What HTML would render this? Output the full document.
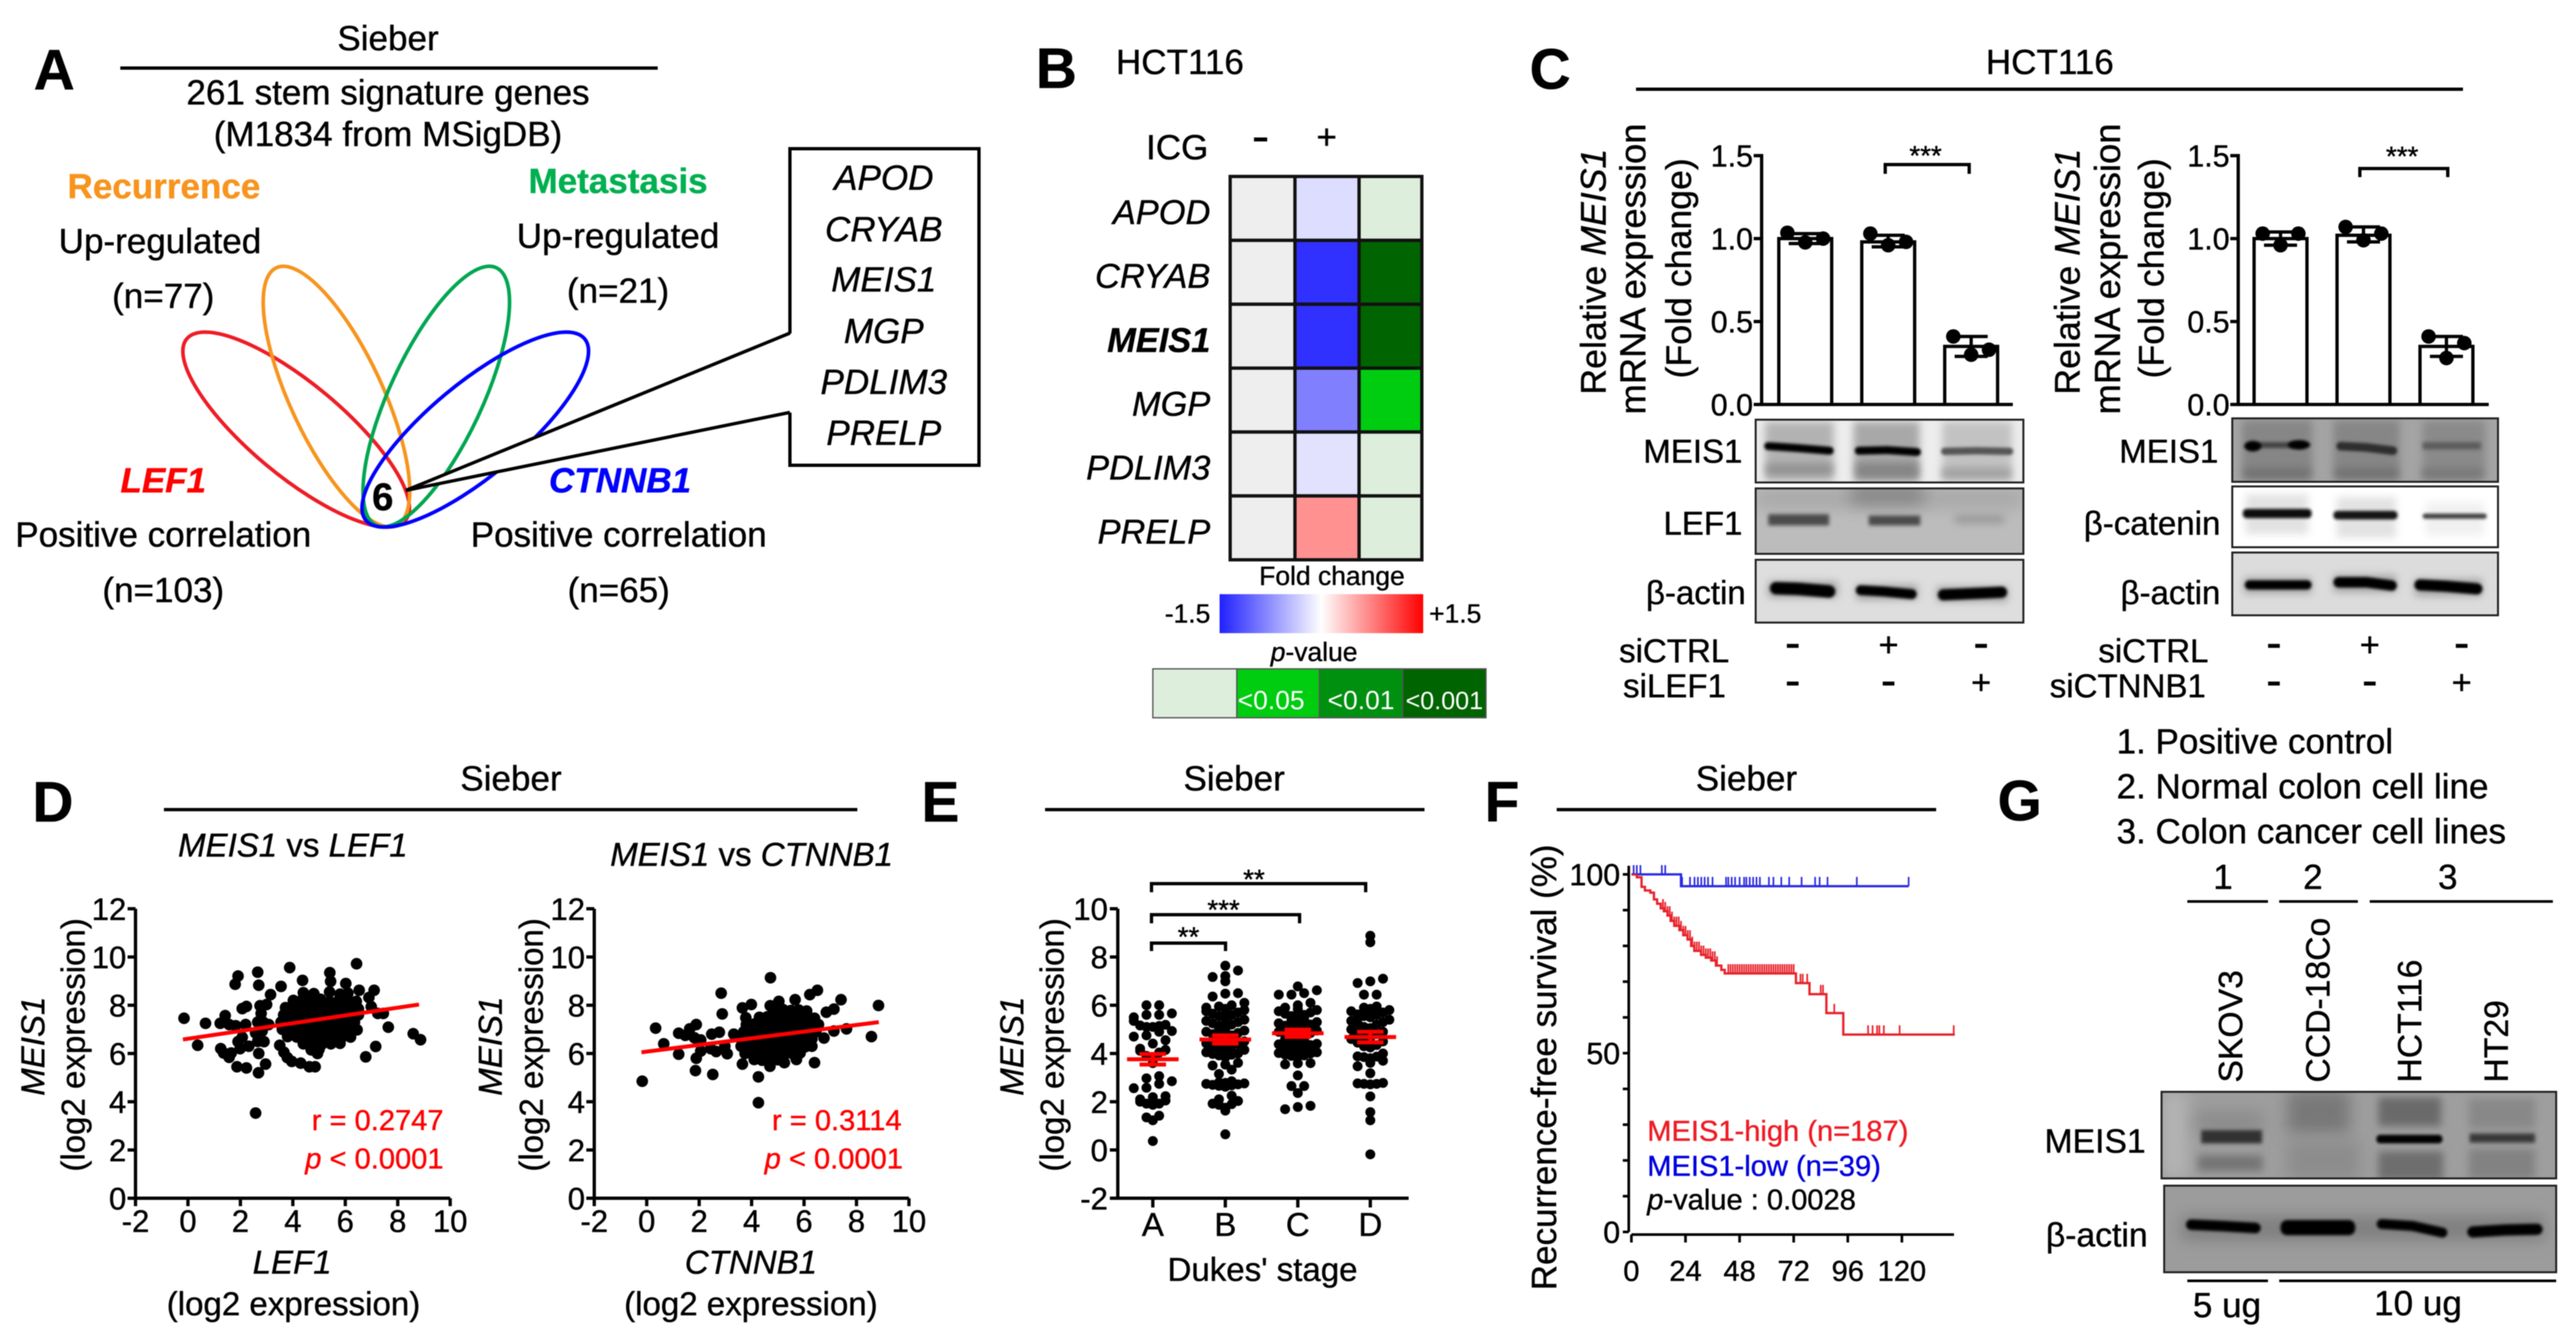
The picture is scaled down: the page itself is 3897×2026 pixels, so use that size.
<!DOCTYPE html>
<html lang="en">
<head>
<meta charset="utf-8">
<title>MEIS1 multi-panel figure</title>
<style>
html,body{margin:0;padding:0;background:#fff;}
svg{display:block;font-family:"Liberation Sans",Arial,sans-serif;filter:blur(0.8px);}
text{fill:#000;stroke:#000;stroke-width:0.6px;}
.t53{font-size:53px;}
.t50{font-size:50px;}
.t44{font-size:44px;}
.t40{font-size:40px;}
.it{font-style:italic;}
.bd{font-weight:bold;}
.mid{text-anchor:middle;}
.end{text-anchor:end;}
.letter{font-size:86px;font-weight:bold;}
.sgn{font-size:70px;text-anchor:middle;}
.pls{font-size:52px;text-anchor:middle;}
</style>
</head>
<body>
<svg id="fig" xmlns="http://www.w3.org/2000/svg" width="3897" height="2026" viewBox="0 0 3897 2026">
<defs>
<filter id="b2" filterUnits="userSpaceOnUse" x="2640" y="620" width="1240" height="1320"><feGaussianBlur stdDeviation="2"/></filter>
<filter id="b3" filterUnits="userSpaceOnUse" x="2640" y="620" width="1240" height="1320"><feGaussianBlur stdDeviation="3"/></filter>
<filter id="b6" filterUnits="userSpaceOnUse" x="2640" y="620" width="1240" height="1320"><feGaussianBlur stdDeviation="6"/></filter>
<filter id="b12" filterUnits="userSpaceOnUse" x="2640" y="620" width="1240" height="1320"><feGaussianBlur stdDeviation="12"/></filter>
<linearGradient id="fc-grad" x1="0" x2="1" y1="0" y2="0"><stop offset="0" stop-color="#2020ff"/><stop offset="0.5" stop-color="#ffffff"/><stop offset="1" stop-color="#ff0000"/></linearGradient>
<clipPath id="clip-c1a"><rect x="2656" y="635" width="405" height="95"/></clipPath>
<clipPath id="clip-c1b"><rect x="2656" y="739" width="405" height="99"/></clipPath>
<clipPath id="clip-c1c"><rect x="2656" y="847" width="405" height="95"/></clipPath>
<clipPath id="clip-c2a"><rect x="3377" y="633" width="402" height="96"/></clipPath>
<clipPath id="clip-c2b"><rect x="3377" y="736" width="402" height="92"/></clipPath>
<clipPath id="clip-c2c"><rect x="3377" y="836" width="402" height="95"/></clipPath>
<clipPath id="clip-g1"><rect x="3270" y="1652" width="597" height="131"/></clipPath>
<clipPath id="clip-g2"><rect x="3274" y="1794" width="593" height="131"/></clipPath>
</defs>

<!-- PANEL A -->
<g>
<text class="letter" x="51" y="135">A</text>
<text class="t53 mid" x="587" y="76">Sieber</text>
<line x1="182" x2="995" y1="103" y2="103" stroke="#000" stroke-width="5"/>
<text class="t53 mid" x="587" y="158">261 stem signature genes</text>
<text class="t53 mid" x="587" y="221">(M1834 from MSigDB)</text>
<text class="t53 mid bd" x="248" y="300" style="fill:#f7941d;stroke:#f7941d">Recurrence</text>
<text class="t53 mid bd" x="935" y="292" style="fill:#00b050;stroke:#00b050">Metastasis</text>
<text class="t53 mid" x="242" y="383">Up-regulated</text>
<text class="t53 mid" x="935" y="375">Up-regulated</text>
<text class="t53 mid" x="247" y="466">(n=77)</text>
<text class="t53 mid" x="935" y="458">(n=21)</text>
<text class="t53 mid bd it" x="247" y="745" style="fill:#ff0000;stroke:#ff0000">LEF1</text>
<text class="t53 mid bd it" x="938" y="745" style="fill:#0000ff;stroke:#0000ff">CTNNB1</text>
<text class="t53 mid" x="247" y="827">Positive correlation</text>
<text class="t53 mid" x="936" y="827">Positive correlation</text>
<text class="t53 mid" x="247" y="911">(n=103)</text>
<text class="t53 mid" x="936" y="911">(n=65)</text>
<ellipse cx="448" cy="650" rx="215" ry="70" transform="rotate(39.7 448 650)" fill="none" stroke="#ee1c25" stroke-width="5.5"/>
<ellipse cx="509" cy="600" rx="215" ry="70" transform="rotate(65 509 600)" fill="none" stroke="#f7941d" stroke-width="5.5"/>
<ellipse cx="660" cy="600" rx="215" ry="70" transform="rotate(-65 660 600)" fill="none" stroke="#00a651" stroke-width="5.5"/>
<ellipse cx="719" cy="650" rx="215" ry="70" transform="rotate(-39.7 719 650)" fill="none" stroke="#0000ff" stroke-width="5.5"/>
<rect x="1195" y="225" width="286" height="479" fill="#fff" stroke="#000" stroke-width="5"/>
<polygon points="614,742 1198,504 1198,624" fill="#fff"/>
<line x1="614" y1="742" x2="1195" y2="504" stroke="#000" stroke-width="5"/>
<line x1="614" y1="742" x2="1195" y2="624" stroke="#000" stroke-width="5"/>
<text class="bd mid" x="579" y="772" style="font-size:58px">6</text>
<text class="t53 it mid" x="1337" y="287">APOD</text>
<text class="t53 it mid" x="1337" y="365">CRYAB</text>
<text class="t53 it mid" x="1337" y="441">MEIS1</text>
<text class="t53 it mid" x="1337" y="519">MGP</text>
<text class="t53 it mid" x="1337" y="596">PDLIM3</text>
<text class="t53 it mid" x="1337" y="673">PRELP</text>
</g>

<!-- PANEL B -->
<g id="panel-b">
<text class="letter" x="1567" y="133">B</text>
<text class="t53 mid" x="1785" y="112">HCT116</text>
<text class="t53 end" x="1828" y="241">ICG</text>
<rect x="1897" y="208" width="20" height="6" fill="#000"/>
<text class="t53 mid" x="2007" y="225">+</text>
<text class="t40 mid" x="2015" y="885">Fold change</text>
<rect x="1845" y="899" width="308" height="59" fill="url(#fc-grad)"/>
<text class="t40 end" x="1831" y="942">-1.5</text>
<text class="t40" x="2162" y="942">+1.5</text>
<text class="t40 mid" x="1988" y="1000"><tspan class="it">p</tspan>-value</text>
<rect x="1744" y="1012" width="127" height="74" fill="#deeedc" stroke="#555" stroke-width="2"/>
<rect x="1871" y="1012" width="125" height="74" fill="#00cc10" stroke="#555" stroke-width="2"/>
<rect x="1996" y="1012" width="126" height="74" fill="#009010" stroke="#555" stroke-width="2"/>
<rect x="2122" y="1012" width="126" height="74" fill="#006400" stroke="#555" stroke-width="2"/>
<text class="t40 mid" x="1923" y="1073" style="fill:#fff;stroke:none">&lt;0.05</text>
<text class="t40 mid" x="2059" y="1073" style="fill:#fff;stroke:none">&lt;0.01</text>
<text class="t40 mid" x="2185" y="1073" style="fill:#fff;stroke:none;font-size:38px">&lt;0.001</text>
</g>

<!-- PANEL C -->
<g id="panel-c">
<text class="letter" x="2314" y="134">C</text>
<text class="t53 mid" x="3101" y="112">HCT116</text>
<line x1="2475" x2="3726" y1="135" y2="135" stroke="#000" stroke-width="5"/>

<text transform="translate(2429 411) rotate(-90)" class="t53 mid" style="font-size:54px">Relative <tspan class="it">MEIS1</tspan></text>
<text transform="translate(2489 407) rotate(-90)" class="t53 mid" style="font-size:55px">mRNA expression</text>
<text transform="translate(2558 406) rotate(-90)" class="t53 mid" style="font-size:54px">(Fold change)</text>
<text transform="translate(3146 411) rotate(-90)" class="t53 mid" style="font-size:54px">Relative <tspan class="it">MEIS1</tspan></text>
<text transform="translate(3207 407) rotate(-90)" class="t53 mid" style="font-size:55px">mRNA expression</text>
<text transform="translate(3273 406) rotate(-90)" class="t53 mid" style="font-size:54px">(Fold change)</text>

<path d="M2852 263V249H2979V263" fill="none" stroke="#000" stroke-width="5"/>
<text x="2913" y="250" class="mid" style="font-size:42px">***</text>
<path d="M3570 268V255H3703V268" fill="none" stroke="#000" stroke-width="5"/>
<text x="3634" y="251" class="mid" style="font-size:42px">***</text>

<!-- C1 blots -->
<g clip-path="url(#clip-c1a)">
<rect x="2656" y="635" width="405" height="95" fill="#ededed"/>
<rect x="2670" y="638" width="104" height="90" fill="#b2b2b2" filter="url(#b6)"/>
<rect x="2804" y="638" width="100" height="90" fill="#a8a8a8" filter="url(#b6)"/>
<rect x="2938" y="638" width="106" height="90" fill="#c2c2c2" filter="url(#b6)"/>
<rect x="2672" y="702" width="100" height="16" fill="#909090" filter="url(#b6)"/>
<rect x="2808" y="700" width="94" height="24" fill="#858585" filter="url(#b6)"/>
<rect x="2938" y="708" width="104" height="16" fill="#a0a0a0" filter="url(#b6)"/>
<path d="M2675 675L2720 678L2768 682" fill="none" stroke="#000" stroke-width="12" stroke-linecap="round" filter="url(#b2)"/>
<path d="M2812 682L2855 681L2900 684" fill="none" stroke="#000" stroke-width="12" stroke-linecap="round" filter="url(#b2)"/>
<path d="M2942 683L2990 682L3040 683" fill="none" stroke="#555" stroke-width="11" stroke-linecap="round" filter="url(#b2)"/>
</g>
<rect x="2656" y="635" width="405" height="95" fill="none" stroke="#222" stroke-width="3"/>
<g clip-path="url(#clip-c1b)">
<rect x="2656" y="739" width="405" height="99" fill="#bcbcbc"/>
<rect x="2656" y="739" width="405" height="30" fill="#a8a8a8" filter="url(#b12)"/>
<rect x="2800" y="735" width="110" height="28" fill="#848484" filter="url(#b12)"/>
<rect x="2675" y="778" width="92" height="17" fill="#4c4c4c" filter="url(#b3)"/>
<rect x="2827" y="780" width="78" height="15" fill="#4c4c4c" filter="url(#b3)"/>
<rect x="2957" y="780" width="75" height="11" fill="#949494" filter="url(#b6)"/>
</g>
<rect x="2656" y="739" width="405" height="99" fill="none" stroke="#222" stroke-width="3"/>
<g clip-path="url(#clip-c1c)">
<rect x="2656" y="847" width="405" height="95" fill="#dedede"/>
<rect x="2675" y="880" width="105" height="24" fill="#a0a0a0" filter="url(#b6)"/>
<rect x="2808" y="885" width="93" height="22" fill="#a0a0a0" filter="url(#b6)"/>
<rect x="2930" y="888" width="107" height="22" fill="#a0a0a0" filter="url(#b6)"/>
<path d="M2687 890L2720 891L2767 895" fill="none" stroke="#000" stroke-width="19" stroke-linecap="round" filter="url(#b2)"/>
<path d="M2815 893L2850 895L2892 899" fill="none" stroke="#000" stroke-width="15" stroke-linecap="round" filter="url(#b2)"/>
<path d="M2940 900L2985 898L3028 896" fill="none" stroke="#000" stroke-width="17" stroke-linecap="round" filter="url(#b2)"/>
</g>
<rect x="2656" y="847" width="405" height="95" fill="none" stroke="#222" stroke-width="3"/>

<!-- C2 blots -->
<g clip-path="url(#clip-c2a)">
<rect x="3377" y="633" width="402" height="96" fill="#a4a4a4"/>
<rect x="3392" y="636" width="106" height="90" fill="#868686" filter="url(#b6)"/>
<rect x="3530" y="636" width="100" height="90" fill="#868686" filter="url(#b6)"/>
<rect x="3665" y="636" width="95" height="90" fill="#8a8a8a" filter="url(#b6)"/>
<rect x="3395" y="708" width="100" height="16" fill="#727272" filter="url(#b6)"/>
<rect x="3533" y="708" width="95" height="16" fill="#727272" filter="url(#b6)"/>
<rect x="3665" y="708" width="90" height="16" fill="#787878" filter="url(#b6)"/>
<rect x="3415" y="669" width="70" height="9" fill="#444" filter="url(#b2)"/>
<ellipse cx="3408" cy="675" rx="13" ry="8" fill="#000" filter="url(#b2)"/>
<ellipse cx="3478" cy="673" rx="17" ry="7" fill="#000" filter="url(#b2)"/>
<path d="M3541 675L3580 677L3620 682" fill="none" stroke="#2e2e2e" stroke-width="13" stroke-linecap="round" filter="url(#b2)"/>
<rect x="3665" y="669" width="88" height="11" fill="#5c5c5c" filter="url(#b3)"/>
</g>
<rect x="3377" y="633" width="402" height="96" fill="none" stroke="#222" stroke-width="3"/>
<g clip-path="url(#clip-c2b)">
<rect x="3377" y="736" width="402" height="92" fill="#ffffff"/>
<rect x="3397" y="748" width="95" height="60" fill="#e2e2e2" filter="url(#b6)"/>
<rect x="3535" y="752" width="90" height="62" fill="#e2e2e2" filter="url(#b6)"/>
<rect x="3670" y="760" width="88" height="50" fill="#f0f0f0" filter="url(#b6)"/>
<rect x="3393" y="770" width="104" height="14" rx="6" fill="#111" filter="url(#b2)"/>
<rect x="3530" y="773" width="97" height="13" rx="6" fill="#151515" filter="url(#b2)"/>
<rect x="3665" y="777" width="97" height="8" rx="4" fill="#444" filter="url(#b2)"/>
</g>
<rect x="3377" y="736" width="402" height="92" fill="none" stroke="#222" stroke-width="3"/>
<g clip-path="url(#clip-c2c)">
<rect x="3377" y="836" width="402" height="95" fill="#dcdcdc"/>
<rect x="3395" y="874" width="102" height="24" fill="#a4a4a4" filter="url(#b6)"/>
<rect x="3530" y="870" width="95" height="26" fill="#a4a4a4" filter="url(#b6)"/>
<rect x="3653" y="876" width="102" height="26" fill="#a4a4a4" filter="url(#b6)"/>
<path d="M3403 885L3450 885L3490 885" fill="none" stroke="#000" stroke-width="14" stroke-linecap="round" filter="url(#b2)"/>
<path d="M3538 881L3580 881L3618 886" fill="none" stroke="#000" stroke-width="16" stroke-linecap="round" filter="url(#b2)"/>
<path d="M3661 885L3700 887L3747 891" fill="none" stroke="#000" stroke-width="17" stroke-linecap="round" filter="url(#b2)"/>
</g>
<rect x="3377" y="836" width="402" height="95" fill="none" stroke="#222" stroke-width="3"/>

<text class="t50 end" x="2636" y="700">MEIS1</text>
<text class="t50 end" x="2636" y="809">LEF1</text>
<text class="t50 end" x="2641" y="914">β-actin</text>
<text class="t50 end" x="3356" y="700">MEIS1</text>
<text class="t50 end" x="3359" y="809">β-catenin</text>
<text class="t50 end" x="3359" y="914">β-actin</text>

<text class="t50 end" x="2616" y="1002">siCTRL</text>
<text class="t50 end" x="2611" y="1055">siLEF1</text>
<text class="t50 end" x="3341" y="1002">siCTRL</text>
<text class="t50 end" x="3337" y="1055">siCTNNB1</text>
<text class="sgn" x="2712" y="996">-</text>
<text class="pls" x="2857" y="993">+</text>
<text class="sgn" x="2997" y="996">-</text>
<text class="sgn" x="2712" y="1053">-</text>
<text class="sgn" x="2857" y="1053">-</text>
<text class="pls" x="2997" y="1050">+</text>
<text class="sgn" x="3440" y="996">-</text>
<text class="pls" x="3585" y="993">+</text>
<text class="sgn" x="3724" y="996">-</text>
<text class="sgn" x="3440" y="1053">-</text>
<text class="sgn" x="3585" y="1053">-</text>
<text class="pls" x="3724" y="1050">+</text>
</g>

<!-- PANEL D -->
<g id="panel-d">
<text class="letter" x="49" y="1243">D</text>
<text class="t53 mid" x="773" y="1196">Sieber</text>
<line x1="248" x2="1297" y1="1225" y2="1225" stroke="#000" stroke-width="5"/>
<text class="t50 mid it" x="443" y="1296">MEIS1 <tspan style="font-style:normal">vs</tspan> LEF1</text>
<text class="t50 mid it" x="1137" y="1310">MEIS1 <tspan style="font-style:normal">vs</tspan> CTNNB1</text>
<text transform="translate(67 1583) rotate(-90)" class="t50 mid it">MEIS1</text>
<text transform="translate(128 1581) rotate(-90)" class="t50 mid">(log2 expression)</text>
<text transform="translate(759 1583) rotate(-90)" class="t50 mid it">MEIS1</text>
<text transform="translate(821 1581) rotate(-90)" class="t50 mid">(log2 expression)</text>
<text class="t50 mid it" x="442" y="1927">LEF1</text>
<text class="t50 mid" x="444" y="1990">(log2 expression)</text>
<text class="t50 mid it" x="1136" y="1927">CTNNB1</text>
<text class="t50 mid" x="1136" y="1990">(log2 expression)</text>
</g>
<g id="d-annot">
<text class="t44 end" x="671" y="1710" style="fill:#ff0000;stroke:#ff0000">r = 0.2747</text>
<text class="t44 end" x="671" y="1768" style="fill:#ff0000;stroke:#ff0000"><tspan class="it" style="fill:#ff0000">p</tspan> &lt; 0.0001</text>
<text class="t44 end" x="1364" y="1710" style="fill:#ff0000;stroke:#ff0000">r = 0.3114</text>
<text class="t44 end" x="1366" y="1768" style="fill:#ff0000;stroke:#ff0000"><tspan class="it" style="fill:#ff0000">p</tspan> &lt; 0.0001</text>
</g>

<!-- PANEL E -->
<g id="panel-e">
<text class="letter" x="1394" y="1243">E</text>
<text class="t53 mid" x="1867" y="1196">Sieber</text>
<line x1="1581" x2="2155" y1="1225" y2="1225" stroke="#000" stroke-width="5"/>
<text transform="translate(1548 1583) rotate(-90)" class="t50 mid it">MEIS1</text>
<text transform="translate(1609 1581) rotate(-90)" class="t50 mid">(log2 expression)</text>
<text class="t50 mid" x="1910" y="1938">Dukes' stage</text>
<path d="M1742 1350V1337H2066V1350" fill="none" stroke="#000" stroke-width="5"/>
<text x="1897" y="1345" class="mid" style="font-size:42px">**</text>
<path d="M1742 1397V1384H1966V1397" fill="none" stroke="#000" stroke-width="5"/>
<text x="1851" y="1391" class="mid" style="font-size:42px">***</text>
<path d="M1742 1439V1427H1854V1439" fill="none" stroke="#000" stroke-width="5"/>
<text x="1798" y="1432" class="mid" style="font-size:42px">**</text>
</g>

<!-- PANEL F -->
<g id="panel-f">
<text class="letter" x="2246" y="1243">F</text>
<text class="t53 mid" x="2642" y="1196">Sieber</text>
<line x1="2355" x2="2929" y1="1225" y2="1225" stroke="#000" stroke-width="5"/>
<text transform="translate(2354 1615) rotate(-90)" class="t53 mid">Recurrence-free survival (%)</text>
<text class="t44" x="2492" y="1726" style="fill:#ee1c25;stroke:#ee1c25">MEIS1-high (n=187)</text>
<text class="t44" x="2492" y="1779" style="fill:#0000e0;stroke:#0000e0">MEIS1-low (n=39)</text>
<text class="t44" x="2492" y="1830"><tspan class="it">p</tspan>-value : 0.0028</text>
</g>

<!-- PANEL G -->
<g>
<text class="letter" x="3022" y="1241">G</text>
<text class="t53" x="3202" y="1140">1. Positive control</text>
<text class="t53" x="3202" y="1208">2. Normal colon cell line</text>
<text class="t53" x="3202" y="1276">3. Colon cancer cell lines</text>
<text class="t53 mid" x="3363" y="1345">1</text>
<text class="t53 mid" x="3499" y="1345">2</text>
<text class="t53 mid" x="3703" y="1345">3</text>
<line x1="3309" x2="3431" y1="1364" y2="1364" stroke="#000" stroke-width="4"/>
<line x1="3448" x2="3567" y1="1364" y2="1364" stroke="#000" stroke-width="4"/>
<line x1="3585" x2="3862" y1="1364" y2="1364" stroke="#000" stroke-width="4"/>
<text transform="translate(3392 1638) rotate(-90)" class="t50" style="font-size:51px">SKOV3</text>
<text transform="translate(3524 1638) rotate(-90)" class="t50" style="font-size:51px">CCD-18Co</text>
<text transform="translate(3663 1638) rotate(-90)" class="t50" style="font-size:51px">HCT116</text>
<text transform="translate(3794 1638) rotate(-90)" class="t50" style="font-size:51px">HT29</text>
<g clip-path="url(#clip-g1)">
<rect x="3270" y="1652" width="597" height="131" fill="#9e9e9e"/>
<rect x="3270" y="1652" width="40" height="131" fill="#b4b4b4" filter="url(#b12)"/>
<rect x="3322" y="1680" width="102" height="36" fill="#8c8c8c" filter="url(#b12)"/>
<rect x="3325" y="1748" width="98" height="24" fill="#747474" filter="url(#b6)"/>
<rect x="3460" y="1650" width="95" height="66" fill="#787878" filter="url(#b12)"/>
<rect x="3460" y="1725" width="110" height="60" fill="#8c8c8c" filter="url(#b12)"/>
<rect x="3598" y="1660" width="95" height="44" fill="#6a6a6a" filter="url(#b6)"/>
<rect x="3598" y="1742" width="98" height="44" fill="#6e6e6e" filter="url(#b6)"/>
<rect x="3735" y="1662" width="100" height="46" fill="#888888" filter="url(#b6)"/>
<rect x="3735" y="1738" width="100" height="46" fill="#828282" filter="url(#b6)"/>
<rect x="3330" y="1710" width="92" height="20" fill="#303030" filter="url(#b3)"/>
<rect x="3595" y="1717" width="100" height="13" rx="6" fill="#000" filter="url(#b2)"/>
<rect x="3736" y="1715" width="99" height="14" fill="#383838" filter="url(#b3)"/>
</g>
<rect x="3270" y="1652" width="597" height="131" fill="none" stroke="#222" stroke-width="3"/>
<g clip-path="url(#clip-g2)">
<rect x="3274" y="1794" width="593" height="131" fill="#9c9c9c"/>
<rect x="3300" y="1840" width="550" height="36" fill="#7e7e7e" filter="url(#b12)"/>
<path d="M3315 1853L3360 1855L3412 1858" fill="none" stroke="#000" stroke-width="16" stroke-linecap="round" filter="url(#b2)"/>
<rect x="3450" y="1846" width="113" height="23" rx="10" fill="#000" filter="url(#b2)"/>
<path d="M3603 1852L3650 1855L3695 1865" fill="none" stroke="#000" stroke-width="15" stroke-linecap="round" filter="url(#b2)"/>
<path d="M3741 1864L3790 1861L3838 1860" fill="none" stroke="#000" stroke-width="17" stroke-linecap="round" filter="url(#b2)"/>
</g>
<rect x="3274" y="1794" width="593" height="131" fill="none" stroke="#222" stroke-width="3"/>
<text class="t50 end" x="3246" y="1744" style="font-size:51px">MEIS1</text>
<text class="t50 end" x="3249" y="1886" style="font-size:51px">β-actin</text>
<line x1="3309" x2="3431" y1="1938" y2="1938" stroke="#000" stroke-width="4"/>
<line x1="3448" x2="3867" y1="1938" y2="1938" stroke="#000" stroke-width="4"/>
<text class="t53 mid" x="3369" y="1993">5 ug</text>
<text class="t53 mid" x="3658" y="1990">10 ug</text>
</g>
</svg>

<script>
/* ---------- Panel B data ---------- */
const heatGenes = ['APOD','CRYAB','MEIS1','MGP','PDLIM3','PRELP'];
const heatFoldChange = [-0.2,-1.22,-1.22,-0.75,-0.17,0.65];
const heatPValues = [0.2,0.0005,0.0005,0.03,0.3,0.2];

/* ---------- Panel C data ---------- */
const barCategories = ['siCTRL','siLEF1-ctrl','siTarget'];
const barTickLabels = ['0.0','0.5','1.0','1.5'];
const barTicks = [0,0.5,1,1.5];
const lefBarValues = [1.0,0.98,0.35];
const lefReplicates = [[1.035,0.977,1.0],[1.03,0.96,0.98],[0.41,0.30,0.33]];
const lefErrLow = [0.97,0.95,0.29];
const lefErrHigh = [1.03,1.02,0.41];
const catBarValues = [1.0,1.02,0.35];
const catReplicates = [[1.03,0.96,1.03],[1.07,0.99,1.03],[0.41,0.28,0.37]];
const catErrLow = [0.96,0.98,0.29];
const catErrHigh = [1.04,1.07,0.41];

/* ---------- Panel D data ---------- */
const scatterXTicks = [-2,0,2,4,6,8,10];
const scatterYTicks = [0,2,4,6,8,10,12];
const lefX = [-0.15,0.67,0.37,1.23,1.42,1.25,1.36,1.57,1.87,2.23,2.69,2.96,1.8,1.91,2.66,2.7,3.15,3.0,2.75,2.07,2.23,3.88,6.43,3.55,4.37,5.41,5.44,6.02,6.53,7.1,6.9,6.99,7.24,7.45,7.64,8.59,8.87,7.16,6.78,2.58,
1.57,1.82,2.2,2.66,3.08,2.07,1.91,2.32,2.9,2.7,2.58,2.83,2.79,2.87,2.66,1.99,1.65,
3.5,3.66,3.79,3.96,4.3,4.63,4.85,4.94,
4.4,4.8,5.4,5.8,6.1,
4.02,4.35,4.7,5.05,5.4,5.75,6.1,6.42,
3.72,4.05,4.4,4.75,5.1,5.45,5.8,6.15,6.5,
3.65,4.0,4.35,4.7,5.05,5.4,5.75,6.1,6.5,
3.55,3.9,4.25,4.6,4.95,5.3,5.65,6.0,6.35,
3.6,3.95,4.3,4.65,5.0,5.35,5.7,6.05,6.45,
3.8,4.15,4.5,4.85,5.2,5.55,5.9,6.2,
4.4,4.75,5.1,5.45,5.8,4.7,5.0];
const lefY = [7.46,7.25,6.34,7.25,7.57,6.2,6.02,5.84,5.45,5.4,5.2,5.56,8.87,9.21,9.37,8.83,8.44,8.03,7.98,7.86,7.95,9.56,9.72,8.78,9.03,9.35,8.99,8.9,8.62,8.62,8.32,7.94,7.66,7.66,7.09,6.82,6.57,6.29,5.86,3.53,
7.2,7.15,7.2,7.3,7.2,6.67,6.49,6.3,6.49,6.0,6.85,6.93,7.66,7.3,6.5,6.2,6.02,
6.34,6.05,5.83,5.67,5.6,5.45,5.45,6.0,
8.52,8.48,8.55,8.46,8.5,
8.2,8.22,8.18,8.25,8.15,8.2,8.22,8.16,
7.9,7.92,7.88,7.95,7.9,7.86,7.93,7.9,7.85,
7.6,7.58,7.62,7.6,7.65,7.55,7.6,7.63,7.6,
7.3,7.28,7.33,7.3,7.25,7.32,7.3,7.27,7.3,
7.0,7.02,6.98,7.0,7.04,6.96,7.0,7.03,6.98,
6.7,6.68,6.72,6.7,6.66,6.73,6.7,6.68,
6.4,6.42,6.38,6.4,6.42,6.15,6.17];
const lefLineX = [-0.19,8.81];
const lefLineY = [6.58,8.03];
const catX = [-0.17,0.34,0.65,1.22,1.89,1.64,1.47,1.22,1.86,2.52,2.84,2.88,4.72,4.26,4.26,6.51,6.22,7.41,7.14,6.85,8.84,8.57,7.62,7.14,6.76,6.4,5.71,5.25,4.7,3.65,5.66,5.04,4.71,3.99,3.65,3.78,
2.77,2.48,3.32,3.07,2.65,1.89,2.06,2.06,1.82,2.44,2.98,
4.9,5.2,5.5,5.8,6.1,
4.3,4.6,4.9,5.2,5.5,5.8,6.1,6.4,
3.8,4.1,4.4,4.7,5.0,5.3,5.6,5.9,6.2,6.55,
3.7,4.0,4.3,4.6,4.9,5.2,5.5,5.8,6.1,6.45,
3.6,3.9,4.2,4.5,4.8,5.1,5.4,5.7,6.0,6.3,
3.6,3.9,4.2,4.5,4.8,5.1,5.4,5.7,6.05,6.3,
3.75,4.05,4.35,4.65,4.95,5.25,5.55,5.85,
4.1,4.4,4.7,5.0,5.7];
const catY = [4.85,7.05,6.4,6.84,7.2,7.02,6.75,5.97,5.29,5.13,8.5,7.64,9.14,5.03,3.96,8.62,8.44,8.23,7.84,7.71,7.99,6.7,7.02,6.93,6.64,5.62,5.75,5.62,5.47,5.56,8.23,8.16,7.98,8.03,7.89,7.48,
6.88,6.8,6.8,5.99,6.08,5.8,6.1,6.56,6.65,6.2,6.3,
7.8,7.82,7.78,7.8,7.76,
7.5,7.52,7.48,7.5,7.53,7.47,7.5,7.46,
7.2,7.22,7.18,7.2,7.23,7.17,7.2,7.22,7.18,7.2,
6.9,6.92,6.88,6.9,6.93,6.87,6.9,6.92,6.88,6.9,
6.6,6.62,6.58,6.6,6.63,6.57,6.6,6.62,6.58,6.6,
6.3,6.32,6.28,6.3,6.33,6.27,6.3,6.32,6.28,6.3,
6.0,6.02,5.98,6.0,6.03,5.97,6.0,6.02,
5.75,5.72,5.76,5.74,5.78];
const catLineX = [-0.2,8.85];
const catLineY = [6.05,7.3];

/* ---------- Panel E data ---------- */
const dukesCategories = ['A','B','C','D'];
const dukesYTicks = [-2,0,2,4,6,8,10];
const dukesA = [0.37,1.23,1.35,1.42,1.87,1.92,1.92,2.0,2.05,2.1,2.19,2.23,2.56,2.58,2.74,2.85,2.97,3.06,3.6,3.8,3.9,4.04,4.11,4.15,4.2,4.41,4.55,4.7,4.75,4.9,4.93,5.1,5.1,5.14,5.16,5.19,5.35,5.5,5.6,5.6,5.66,6.0,6.0];
const dukesB = [0.65,1.63,1.75,1.87,1.9,1.92,2.03,2.1,2.25,2.62,2.66,2.68,2.7,2.72,2.74,2.76,2.78,2.8,2.85,3.15,3.33,3.5,3.54,3.61,3.84,3.92,3.95,3.98,4.0,4.05,4.15,4.2,4.25,4.3,4.35,4.4,4.42,4.5,4.55,4.6,4.65,4.7,4.75,4.8,4.85,4.9,4.95,5.0,5.02,5.1,5.15,5.2,5.25,5.3,5.35,5.4,5.45,5.5,5.55,5.6,5.65,5.7,5.75,5.8,5.85,5.9,5.95,6.0,6.1,6.36,6.48,6.5,6.99,7.17,7.21,7.44,7.64];
const dukesC = [1.69,1.78,1.83,2.36,2.65,2.65,3.09,3.55,3.59,3.6,3.88,3.9,3.92,3.95,4.0,4.02,4.05,4.1,4.12,4.15,4.2,4.22,4.25,4.3,4.35,4.38,4.4,4.42,4.5,4.55,4.6,4.65,4.7,4.75,4.8,4.85,4.9,4.95,5.0,5.05,5.1,5.12,5.15,5.2,5.25,5.3,5.35,5.4,5.45,5.5,5.55,5.6,5.65,5.7,5.75,5.8,5.85,5.9,6.0,6.1,6.44,6.44,6.5,6.62,6.78];
const dukesD = [-0.18,1.23,1.57,2.22,2.72,2.74,2.74,2.76,2.78,3.18,3.47,3.61,3.7,3.8,3.85,3.87,3.88,4.0,4.25,4.3,4.35,4.45,4.5,4.6,4.65,4.7,4.8,4.85,4.9,5.0,5.05,5.1,5.2,5.25,5.3,5.35,5.4,5.5,5.55,5.6,5.62,5.7,5.75,5.8,5.85,5.9,5.95,6.44,6.44,6.92,6.99,7.1,8.61,8.88];
const dukesMeans = [3.76,4.58,4.84,4.68];
const dukesSem = [0.22,0.17,0.15,0.22];

/* ---------- Panel F data ---------- */
const kmXTicks = [0,24,48,72,96,120];
const kmYTicks = [0,10,20,30,40,50,60,70,80,90,100];
const kmYLabels = [0,50,100];
const highTimes = [0,2.4,4.5,6,8.4,10,11.4,13,14.4,16,17.4,19,21.3,23,24.9,26.5,27.9,30.9,33,35.4,37.5,39.9,41.4,73,79,86.5,94,143.5];
const highSurvival = [100,99.2,96.5,95.5,94.9,93,91.8,90.5,89.7,88.5,87,85.6,84.4,83,81.8,80,78.6,77.5,76.7,75.9,74.5,73.3,72.3,69.6,66.5,61.2,55.2,55.2];
const highCensor = [14,15,16,17,18,19,20,21,22,23,24,25,26,27,28,29,30,31,32,33,34,35,36,37,38,43,44,45,46,47,48,49,50,51,52,53,54,55,56,57,58,59,60,61,62,63,64,65,66,67,68,69,70,71,72,73,75,76,78,79,84,85,90,105,107,109,110,112,119,143];
const lowTimes = [0,22,123];
const lowSurvival = [100,96.7,96.7];
const lowCensor = [1,2.4,4,13.5,15,22.5,26,28,29.5,31,32.5,34,36,42,43,44.5,46,48,50,51,52.5,54,55.5,57,61,63,66.5,70,75.5,81.5,83.5,87,100,123];

/* ---------- Helpers ---------- */
const SVGNS = 'http://www.w3.org/2000/svg';
const fig = document.getElementById('fig');
function mk(tag, attrs, parent) {
  const el = document.createElementNS(SVGNS, tag);
  for (const k in attrs) el.setAttribute(k, attrs[k]);
  parent.appendChild(el);
  return el;
}
function drawYAxis(parent, axisX, yTop, yBottom, ticks, labels, scale, tickLen, labelRight, fontSize, sw) {
  const ax = mk('line', {x1: axisX, x2: axisX, y1: yTop, y2: yBottom, stroke: '#000', 'stroke-width': sw}, parent);
  
  
  ticks.forEach((t, i) => {
    const tk = mk('line', {x1: axisX - tickLen, x2: axisX, y1: scale(t), y2: scale(t), stroke: '#000', 'stroke-width': sw}, parent);
    
    
    if (labels[i] === null) return;
    const lb = mk('text', {x: labelRight, y: scale(t) + fontSize * 0.36, 'text-anchor': 'end', 'font-size': fontSize}, parent);
    lb.textContent = labels[i];
    
    
  });
}
function drawXAxis(parent, axisY, xLeft, xRight, ticks, labels, scale, tickLen, labelBase, fontSize, sw) {
  const ax = mk('line', {x1: xLeft, x2: xRight, y1: axisY, y2: axisY, stroke: '#000', 'stroke-width': sw}, parent);
  
  
  ticks.forEach((t, i) => {
    const tk = mk('line', {x1: scale(t), x2: scale(t), y1: axisY, y2: axisY + tickLen, stroke: '#000', 'stroke-width': sw}, parent);
    
    
    const lb = mk('text', {x: scale(t), y: labelBase, 'text-anchor': 'middle', 'font-size': fontSize}, parent);
    lb.textContent = labels[i];
    
    
  });
}

/* ---------- Panel B heatmap ---------- */
(function () {
  const g = document.getElementById('panel-b');
  const left = 1861, colW = [98, 97, 95], top = 267, rowH = 96.67;
  function fcColor(v) {
    const t = Math.min(1, Math.abs(v) / 1.5);
    const c = Math.round(255 * (1 - t));
    return v < 0 ? `rgb(${c},${c},255)` : `rgb(255,${c},${c})`;
  }
  function pColor(p) {
    if (p < 0.001) return '#006400';
    if (p < 0.01) return '#009010';
    if (p < 0.05) return '#00cc10';
    return '#deeedc';
  }
  function rowY(i) { return top + i * rowH; }
  heatGenes.forEach((gene, i) => {
    const lab = mk('text', {x: 1831, y: rowY(i) + 72, 'text-anchor': 'end', 'font-size': 52, 'font-style': 'italic', 'font-weight': gene === 'MEIS1' ? 'bold' : 'normal'}, g);
    lab.textContent = gene;
    
    
    const c0 = mk('rect', {x: left, y: rowY(i), width: colW[0], height: rowH, fill: '#eeeeee', stroke: '#111', 'stroke-width': 5}, g);
    
    
    const c1 = mk('rect', {x: left + colW[0], y: rowY(i), width: colW[1], height: rowH, fill: fcColor(heatFoldChange[i]), stroke: '#111', 'stroke-width': 5}, g);
    
    
    const c2 = mk('rect', {x: left + colW[0] + colW[1], y: rowY(i), width: colW[2], height: rowH, fill: pColor(heatPValues[i]), stroke: '#111', 'stroke-width': 5}, g);
    
    
  });
})();

/* ---------- Panel C bars ---------- */
function drawBarChart(axisX, xEnd, firstBar, values, reps, errLow, errHigh) {
  const g = document.getElementById('panel-c');
  const yScale = v => 612 - v * 251;
  const barW = 80, step = 125.5;
  const barLeft = i => firstBar + i * step;
  drawYAxis(g, axisX, 233, 612, barTicks, barTickLabels, yScale, 12, axisX - 13, 46, 5);
  const base = mk('line', {x1: axisX, x2: xEnd, y1: 612, y2: 612, stroke: '#000', 'stroke-width': 5}, g);
  
  
  barCategories.forEach((cat, i) => {
    const b = mk('rect', {x: barLeft(i), y: yScale(values[i]), width: barW, height: 612 - yScale(values[i]), fill: '#fff', stroke: '#000', 'stroke-width': 5}, g);
    
    
    const cx = barLeft(i) + barW / 2;
    const e = mk('path', {d: `M${cx - 25} ${yScale(errHigh[i])}H${cx + 25}M${cx} ${yScale(errHigh[i])}V${yScale(errLow[i])}M${cx - 25} ${yScale(errLow[i])}H${cx + 25}`, fill: 'none', stroke: '#000', 'stroke-width': 5}, g);
    
    
    reps[i].forEach((v, j) => {
      const d = mk('circle', {cx: cx + (j - 1) * 27, cy: yScale(v), r: 11, fill: '#000'}, g);
      
      
    });
  });
}
drawBarChart(2665, 3045, 2691, lefBarValues, lefReplicates, lefErrLow, lefErrHigh);
drawBarChart(3386, 3765, 3410, catBarValues, catReplicates, catErrLow, catErrHigh);

/* ---------- Panel D scatter ---------- */
function drawScatter(axisX, xs, ys, lineX, lineY) {
  const g = document.getElementById('panel-d');
  const xScale = v => axisX + (v + 2) * 39.67;
  const yScale = v => 1813 - v * 36.5;
  drawYAxis(g, axisX, 1375, 1813, scatterYTicks, scatterYTicks.map(String), yScale, 12, axisX - 14, 47, 5);
  drawXAxis(g, 1813, axisX, xScale(10), scatterXTicks, scatterXTicks.map(String), xScale, 12, 1864, 47, 5);
  xs.forEach((x, i) => {
    const d = mk('circle', {cx: xScale(x), cy: yScale(ys[i]), r: 8.8, fill: '#000'}, g);
    
    
  });
  const fit = mk('line', {x1: xScale(lineX[0]), y1: yScale(lineY[0]), x2: xScale(lineX[1]), y2: yScale(lineY[1]), stroke: '#ff0000', 'stroke-width': 6}, g);
  
  
}
drawScatter(205, lefX, lefY, lefLineX, lefLineY);
drawScatter(899, catX, catY, catLineX, catLineY);

/* ---------- Panel E swarm ---------- */
(function () {
  const g = document.getElementById('panel-e');
  const yScale = v => 1813 - (v + 2) * 36.5;
  const xCat = i => 1744 + i * 109.67;
  drawYAxis(g, 1691, 1375, 1813, dukesYTicks, dukesYTicks.map(String), yScale, 12, 1676, 47, 5);
  drawXAxis(g, 1813, 1691, 2131, [0, 1, 2, 3], dukesCategories, xCat, 14, 1870, 50, 5);
  const groups = [dukesA, dukesB, dukesC, dukesD];
  const slotStep = 9.6;
  const smallLayouts = {1: [0], 2: [-1, 1], 3: [-2, 0, 2], 4: [-3, -1, 1, 3]};
  const centreOut = [0, -1, 1, -2, 2, -3, 3];
  groups.forEach((vals, gi) => {
    const bins = {};
    vals.forEach(v => {
      const key = Math.floor(v / 0.42);
      if (!bins[key]) bins[key] = [];
      bins[key].push(v);
    });
    Object.keys(bins).forEach(key => {
      const members = bins[key];
      const n = members.length;
      members.forEach((v, k) => {
        const slot = n <= 4 ? smallLayouts[n][k] : centreOut[k % 7];
        const d = mk('circle', {cx: xCat(gi) + slot * slotStep, cy: yScale(v), r: 7.5, fill: '#000'}, g);
        
        
      });
    });
    const cx = xCat(gi), m = dukesMeans[gi], s = dukesSem[gi];
    const mean = mk('line', {x1: cx - 39, x2: cx + 39, y1: yScale(m), y2: yScale(m), stroke: '#ff0000', 'stroke-width': 6}, g);
    
    
    const err = mk('path', {d: `M${cx - 20} ${yScale(m + s)}H${cx + 20}M${cx} ${yScale(m + s)}V${yScale(m - s)}M${cx - 20} ${yScale(m - s)}H${cx + 20}`, fill: 'none', stroke: '#ff0000', 'stroke-width': 6}, g);
    
    
  });
})();

/* ---------- Panel F Kaplan-Meier ---------- */
(function () {
  const g = document.getElementById('panel-f');
  const xScale = m => 2468 + m * 3.41;
  const yScale = p => 1864 - p * 5.41;
  drawYAxis(g, 2464, 1310, 1864, kmYTicks, kmYTicks.map(t => kmYLabels.includes(t) ? String(t) : null), yScale, 9, 2451, 46, 4);
  drawXAxis(g, 1868, 2468, 2956, kmXTicks, kmXTicks.map(String), xScale, 12, 1938, 44, 4);
  function survivalAt(times, surv, t) {
    let s = surv[0];
    times.forEach((tt, i) => { if (tt <= t) s = surv[i]; });
    return s;
  }
  function stepPath(times, surv) {
    let d = `M${xScale(times[0])} ${yScale(surv[0])}`;
    for (let i = 1; i < times.length; i++) {
      d += `H${xScale(times[i])}V${yScale(surv[i])}`;
    }
    return d;
  }
  const lowLine = mk('path', {d: stepPath(lowTimes, lowSurvival), fill: 'none', stroke: '#2a2ae0', 'stroke-width': 3.5}, g);
  
  
  const highLine = mk('path', {d: stepPath(highTimes, highSurvival), fill: 'none', stroke: '#e8222a', 'stroke-width': 3.5}, g);
  
  
  lowCensor.forEach(t => {
    const y = yScale(survivalAt(lowTimes, lowSurvival, t));
    const c = mk('line', {x1: xScale(t), x2: xScale(t), y1: y - 14, y2: y, stroke: '#2a2ae0', 'stroke-width': 2.5}, g);
    
    
  });
  highCensor.forEach(t => {
    const y = yScale(survivalAt(highTimes, highSurvival, t));
    const c = mk('line', {x1: xScale(t), x2: xScale(t), y1: y - 14, y2: y, stroke: '#e8222a', 'stroke-width': 2.5}, g);
    
    
  });
})();
</script>
</body>
</html>
